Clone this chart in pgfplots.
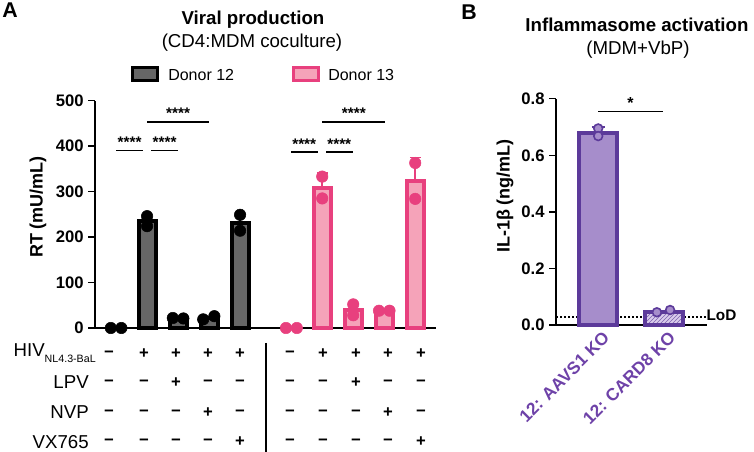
\documentclass[border=0pt]{standalone}
\usepackage{fontspec}
\setmainfont{Liberation Sans}
\usepackage{pgfplots}
\pgfplotsset{compat=1.18}
\usetikzlibrary{patterns}

\definecolor{dgray}{HTML}{666666}
\definecolor{pinkE}{HTML}{E8407E}
\definecolor{pinkF}{HTML}{F5A3B9}
\definecolor{purpE}{HTML}{5C3A9A}
\definecolor{purpF}{HTML}{A68DCB}
\definecolor{purpL}{HTML}{D9CCEC}
\definecolor{purpT}{HTML}{6E42A8}

\newcommand{\fs}[1]{\fontsize{#1}{#1}\selectfont}
\newcommand{\mi}{\textbf{−}}
\newcommand{\pl}{\textbf{+}}

\pgfplotsset{
  panel/.style={
    scale only axis, anchor=south west, clip=false,
    axis lines*=left, axis line style={line width=1.1pt},
    tick align=outside, major tick length=5pt,
    every tick/.style={line width=1.1pt, black},
    tick label style={font=\fs{12.5}\bfseries},
    /pgf/number format/assume math mode=true,
  },
}
\tikzset{sig/.style={line width=1pt}}

\begin{document}
\begin{tikzpicture}
\path[use as bounding box] (0,0) rectangle (565.5pt,-339pt);

% ---------- panel A
\begin{axis}[panel,
  at={(71.25pt,-246pt)}, width=255.75pt, height=170.5pt,
  xmin=-0.68, xmax=10.32, ymin=0, ymax=500,
  ytick={0,100,200,300,400,500}, xtick=\empty,
]
% donor 12
\addplot[ybar, bar width=0.55, bar shift=0pt, fill=dgray, draw=black, line width=3pt,
  error bars/.cd, y dir=plus, y explicit,
  error bar style={line width=1.3pt, black},
  error mark options={rotate=90, mark size=4pt, line width=1.3pt, black}]
  coordinates {(1,235) +- (0,12) (2,21) +- (0,1) (3,22) +- (0,3) (4,231) +- (0,18)};
\addplot[only marks, mark=*, mark size=4.3pt, mark options={fill=black, draw=black}]
  coordinates {(-0.17,0) (0.17,0) (1,246) (1,224) (1.83,22) (2.17,21)
               (2.81,19) (3.17,26) (4,249) (4,214)};
% donor 13
\addplot[ybar, bar width=0.55, bar shift=0pt, fill=pinkF, draw=pinkE, line width=3pt,
  error bars/.cd, y dir=plus, y explicit,
  error bar style={line width=1.3pt, pinkE},
  error mark options={rotate=90, mark size=4pt, line width=1.3pt, pinkE}]
  coordinates {(6.65,308) +- (0,33) (7.65,40) +- (0,12) (8.65,38) +- (0,1) (9.65,323) +- (0,52)};
\addplot[only marks, mark=*, mark size=4.3pt, mark options={fill=pinkE, draw=pinkE}]
  coordinates {(5.48,0) (5.83,0) (6.65,333) (6.65,285) (7.65,52) (7.65,28)
               (8.48,38) (8.82,38) (9.65,363) (9.65,284)};
% significance
\draw[sig] (axis cs:0,390) -- (axis cs:0.87,390);
\draw[sig] (axis cs:1.13,390) -- (axis cs:2,390);
\draw[sig] (axis cs:1,453) -- (axis cs:3,453);
\draw[sig] (axis cs:5.65,387) -- (axis cs:6.5,387);
\draw[sig] (axis cs:6.78,387) -- (axis cs:7.65,387);
\draw[sig] (axis cs:6.65,453) -- (axis cs:8.68,453);
\begin{scope}[every node/.style={font=\fs{11.5}\bfseries}]
\node at (axis cs:0.435,408) {****};
\node at (axis cs:1.565,408) {****};
\node at (axis cs:2,473) {****};
\node at (axis cs:6.07,405) {****};
\node at (axis cs:7.2,405) {****};
\node at (axis cs:7.67,473) {****};
\end{scope}
\end{axis}

% ---------- panel B
\begin{axis}[panel,
  at={(417pt,-243.75pt)}, width=113.25pt, height=169.7pt,
  xmin=-0.64, xmax=1.65, ymin=0, ymax=0.8,
  ytick={0,0.2,0.4,0.6,0.8},
  yticklabel style={/pgf/number format/.cd, fixed, fixed zerofill, precision=1},
  xtick={0,1}, xticklabels={12: AAVS1 KO, 12: CARD8 KO},
  x tick label style={rotate=45, anchor=north east, font=\fs{13}\bfseries, text=purpT,
    xshift=6pt, yshift=2pt},
  major x tick style={draw=none},
]
\draw[line width=1.3pt, dash pattern=on 1.3pt off 1.7pt] (axis cs:-0.64,0.027) -- (axis cs:1.63,0.027);
\addplot[ybar, bar width=0.58, bar shift=0pt, fill=purpF, draw=purpE, line width=3pt,
  error bars/.cd, y dir=plus, y explicit,
  error bar style={line width=1.3pt, purpE},
  error mark options={rotate=90, mark size=5pt, line width=1.3pt, purpE}]
  coordinates {(0,0.678) +- (0,0.022)};
\addplot[ybar, bar width=0.58, bar shift=0pt, fill=purpL, draw=purpE, line width=3pt,
  postaction={pattern=north east lines, pattern color=purpE!80}]
  coordinates {(1,0.045)};
\addplot[only marks, mark=*, mark size=3.3pt, mark options={fill=purpF, draw=purpE, line width=1.2pt}]
  coordinates {(0,0.695) (0,0.668) (0.89,0.045) (1.09,0.053)};
\draw[sig] (axis cs:0,0.754) -- (axis cs:0.98,0.754);
\node[font=\fs{12}\bfseries] at (axis cs:0.49,0.785) {*};
\node[anchor=west, inner sep=0pt, font=\fs{11.5}\bfseries] at (axis cs:1.64,0.034) {LoD};
\end{axis}

% ---------- text in pixel coordinates
\begin{scope}[x=0.75pt, y=-0.75pt]
\node[font=\fs{16}\bfseries] at (10,10) {A};
\node[font=\fs{16}\bfseries] at (469,12) {B};
\node[font=\fs{14}\bfseries] at (253,20) {Viral production};
\node[font=\fs{14}] at (252,43) {(CD4:MDM coculture)};
\node[font=\fs{14}\bfseries] at (637,25) {Inflammasome activation};
\node[font=\fs{14}] at (638,50) {(MDM+VbP)};
% legend
\draw[fill=dgray, draw=black, line width=2.25pt] (132,68) rectangle (157,81);
\node[anchor=west, inner sep=0pt, font=\fs{12}] at (168,74.5) {Donor 12};
\draw[fill=pinkF, draw=pinkE, line width=2.25pt] (293,68) rectangle (318,81);
\node[anchor=west, inner sep=0pt, font=\fs{12}] at (328,74.5) {Donor 13};
% axis titles
\node[rotate=90, font=\fs{13.5}\bfseries] at (38,207) {RT (mU/mL)};
\node[rotate=90, font=\fs{13.5}\bfseries] at (505,196) {IL-1β (ng/mL)};
% treatment table
\begin{scope}[every node/.style={anchor=east, inner sep=0pt, font=\fs{14}}]
\node at (96,353) {HIV\raisebox{-4pt}{\fs{8}NL4.3-BaL}};
\node at (89,382) {LPV};
\node at (89,412) {NVP};
\node at (89,442) {VX765};
\end{scope}
\foreach \x/\a/\b/\c/\d in {109/\mi/\mi/\mi/\mi, 144/\pl/\mi/\mi/\mi, 176/\pl/\pl/\mi/\mi,
    208/\pl/\mi/\pl/\mi, 240/\pl/\mi/\mi/\pl, 290/\mi/\mi/\mi/\mi, 323/\pl/\mi/\mi/\mi,
    356/\pl/\pl/\mi/\mi, 388/\pl/\mi/\pl/\mi, 421/\pl/\mi/\mi/\pl} {
  \node[font=\fs{12.5}] at (\x,354) {\a};
  \node[font=\fs{12.5}] at (\x,383) {\b};
  \node[font=\fs{12.5}] at (\x,413) {\c};
  \node[font=\fs{12.5}] at (\x,442) {\d};
}
\draw[line width=0.9pt] (266,343) -- (266,452);
\end{scope}
\end{tikzpicture}
\end{document}
